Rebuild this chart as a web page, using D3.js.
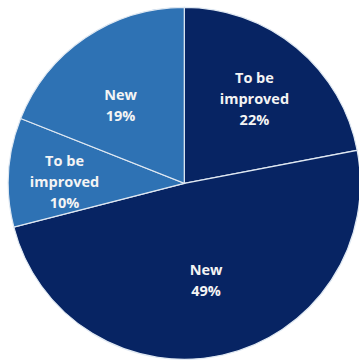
<!DOCTYPE html>
<html>
<head>
<meta charset="utf-8">
<script src="https://cdn.jsdelivr.net/npm/d3@7"></script>
<style>
  html, body { margin: 0; padding: 0; background: #ffffff; }
  svg { display: block; }
</style>
</head>
<body>
<svg id="chart" width="359" height="360"></svg>
<script>
// Share of items by status, clockwise from 12 o'clock
const categories = ["To be improved", "New", "To be improved", "New"];
const values = [22, 49, 10, 19];
const colors = ["#072463", "#072463", "#2e72b4", "#2e72b4"];

const width = 359, height = 360;
const cx = 184.3, cy = 183.3, radius = 176;

const svg = d3.select("#chart");
const g = svg.append("g").attr("transform", `translate(${cx},${cy})`);

const data = categories.map((c, i) => ({ category: c, value: values[i], color: colors[i] }));

const pie = d3.pie().value(d => d.value).sort(null);
const arcs = pie(data);

const arc = d3.arc().innerRadius(0).outerRadius(radius);

g.selectAll("path.slice")
  .data(arcs)
  .join("path")
  .attr("class", "slice")
  .attr("d", arc)
  .attr("fill", d => d.data.color)
  .attr("stroke", "#dfe8f2")
  .attr("stroke-width", 1.2);

// Label placement: distance from centre along the mid-angle, plus a small
// nudge so each block sits comfortably inside its wedge.
const labelRadius = [110, 100, 120, 101];
const labelNudge = [[0, 0], [0, 0], [0, 6], [-7, 6]];

const labels = g.selectAll("text.label")
  .data(arcs)
  .join("text")
  .attr("class", "label")
  .attr("text-anchor", "middle")
  .attr("fill", "#f4f4f4")
  .attr("font-family", "'Open Sans', 'Noto Sans', sans-serif")
  .attr("font-weight", 700)
  .attr("font-size", 14.5)
  .attr("transform", (d, i) => {
    const r = labelRadius[i];
    const a = (d.startAngle + d.endAngle) / 2;
    const [nx, ny] = labelNudge[i];
    return `translate(${r * Math.sin(a) + nx},${-r * Math.cos(a) + ny})`;
  });

labels.each(function(d) {
  const lines = [];
  if (d.data.category === "To be improved") {
    lines.push("To be", "improved");
  } else {
    lines.push(d.data.category);
  }
  lines.push(d.data.value + "%");
  const lh = 21;
  const start = -((lines.length - 1) * lh) / 2;
  const t = d3.select(this);
  lines.forEach((s, i) => {
    t.append("tspan")
      .attr("x", 0)
      .attr("y", start + i * lh)
      .attr("dy", "0.35em")
      .text(s);
  });
});
</script>
</body>
</html>
